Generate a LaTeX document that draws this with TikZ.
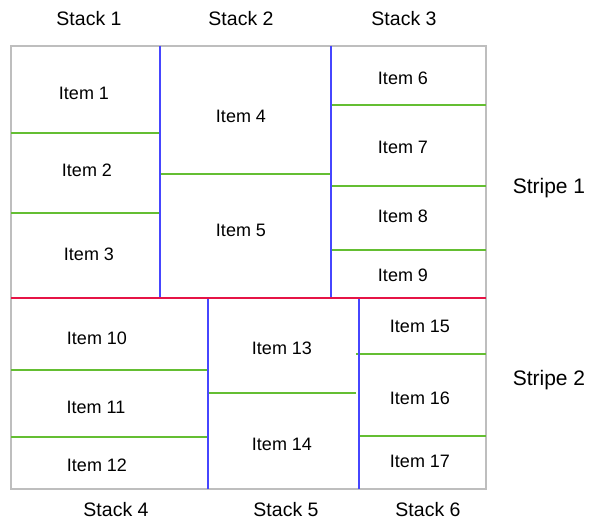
\documentclass[tikz,border=0pt]{standalone}
\usepackage{fontspec}
\setmainfont{Liberation Sans}
\begin{document}
\begin{tikzpicture}[x=1pt,y=-1pt,
  lbl/.style={inner sep=0pt,font=\fontsize{18}{20}\selectfont},
  stklbl/.style={inner sep=0pt,font=\fontsize{19.5}{22}\selectfont},
  strlbl/.style={inner sep=0pt,font=\fontsize{21}{24}\selectfont},
  frame/.style={draw={rgb,255:red,190;green,190;blue,190},line width=2pt},
  sep/.style={draw={rgb,255:red,100;green,190;blue,50},line width=2pt},
  stk/.style={draw={rgb,255:red,70;green,70;blue,255},line width=2pt},
  strp/.style={draw={rgb,255:red,230;green,20;blue,70},line width=2pt}]
\useasboundingbox (0,0) rectangle (592,521);
% frame
\draw[frame] (11,46) rectangle (486,489);
% green separators
\draw[sep] (11,133) -- (160,133);
\draw[sep] (11,213) -- (160,213);
\draw[sep] (160,174) -- (331,174);
\draw[sep] (331,105) -- (486,105);
\draw[sep] (331,186) -- (486,186);
\draw[sep] (331,250) -- (486,250);
\draw[sep] (11,370) -- (208,370);
\draw[sep] (11,437) -- (208,437);
\draw[sep] (208,393) -- (356,393);
\draw[sep] (356,354) -- (486,354);
\draw[sep] (358,436) -- (486,436);
% blue stack borders
\draw[stk] (160,46) -- (160,298);
\draw[stk] (331,46) -- (331,298);
\draw[stk] (208,298) -- (208,489);
\draw[stk] (359,298) -- (359,489);
% red stripe border
\draw[strp] (11,298) -- (486,298);
% labels
\node[stklbl] (s1) at (89,19) {Stack 1};
\node[stklbl] (s2) at (241,19) {Stack 2};
\node[stklbl] (s3) at (404,19) {Stack 3};
\node[stklbl] (s4) at (116,510) {Stack 4};
\node[stklbl] (s5) at (286,510) {Stack 5};
\node[stklbl] (s6) at (428,510) {Stack 6};
\node[strlbl] (r1) at (549,188) {Stripe 1};
\node[strlbl] (r2) at (549,380) {Stripe 2};
% items
\node[lbl] (i1) at (84,93) {Item 1};
\node[lbl] (i2) at (87,170) {Item 2};
\node[lbl] (i3) at (89,254) {Item 3};
\node[lbl] (i4) at (241,116) {Item 4};
\node[lbl] (i5) at (241,230) {Item 5};
\node[lbl] (i6) at (403,78) {Item 6};
\node[lbl] (i7) at (403,147) {Item 7};
\node[lbl] (i8) at (403,216) {Item 8};
\node[lbl] (i9) at (403,275) {Item 9};
\node[lbl] (i10) at (97,338) {Item 10};
\node[lbl] (i11) at (96,407) {Item 11};
\node[lbl] (i12) at (97,465) {Item 12};
\node[lbl] (i13) at (282,348) {Item 13};
\node[lbl] (i14) at (282,444) {Item 14};
\node[lbl] (i15) at (420,326) {Item 15};
\node[lbl] (i16) at (420,398) {Item 16};
\node[lbl] (i17) at (420,461) {Item 17};
\end{tikzpicture}
\end{document}
